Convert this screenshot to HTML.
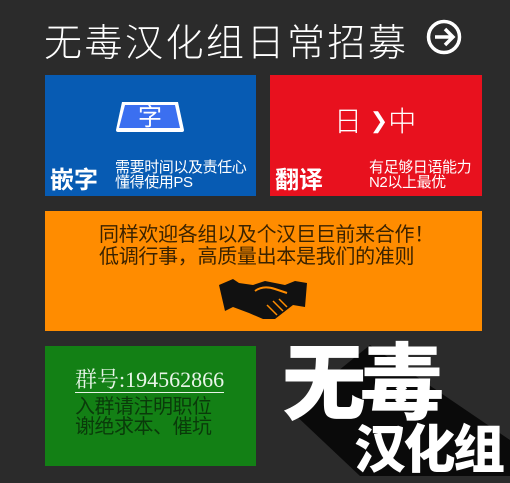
<!DOCTYPE html>
<html><head><meta charset="utf-8"><style>
*{margin:0;padding:0;box-sizing:border-box}
body{width:510px;height:476px;background:#2b2b2b;position:relative;overflow:hidden;font-family:"Liberation Sans","Noto Sans CJK SC",sans-serif}
.a{position:absolute;white-space:nowrap}
</style></head><body>
<div class="a" style="left:44px;top:12px;font-size:38px;color:#fff;letter-spacing:2.5px;font-weight:300">无毒汉化组日常招募</div>
<svg class="a" style="left:426px;top:19px" width="36" height="36" viewBox="0 0 36 36"><circle cx="18" cy="18" r="15.5" fill="none" stroke="#fff" stroke-width="3.5"/><path d="M9 18H26M19 10L27 18L19 26" fill="none" stroke="#fff" stroke-width="3.5"/></svg>

<div class="a" style="left:45px;top:75px;width:211px;height:121px;background:#075bb3"></div>
<svg class="a" style="left:114px;top:100px" width="72" height="34" viewBox="0 0 72 34"><path d="M8 2H64L70 30Q70 32 68 32H4Q2 32 2 30Z" fill="#fff"/><path d="M11 5H61L66 28H5Z" fill="#3b6ff0"/><text x="36" y="25" text-anchor="middle" font-size="24" fill="#fff" font-family="Noto Sans CJK SC,sans-serif">字</text></svg>
<div class="a" style="left:50px;top:160px;font-size:24px;font-weight:bold;color:#fff">嵌字</div>
<div class="a" style="left:115px;top:160px;font-size:15px;line-height:15px;color:#fff;letter-spacing:-0.4px">需要时间以及责任心<br>懂得使用PS</div>

<div class="a" style="left:270px;top:75px;width:212px;height:121px;background:#e8111e"></div>
<div class="a" style="left:334px;top:100px;font-size:28px;color:#fff;font-weight:300">日 <b style="font-size:22px;position:relative;top:-3px">❯</b>中</div>
<div class="a" style="left:275px;top:160px;font-size:24px;font-weight:bold;color:#fff">翻译</div>
<div class="a" style="left:369px;top:160px;font-size:15px;line-height:15px;color:#fff;letter-spacing:-0.4px">有足够日语能力<br>N2以上最优</div>

<div class="a" style="left:45px;top:211px;width:437px;height:120px;background:#ff8c00"></div>
<div class="a" style="left:99px;top:224px;font-size:20px;line-height:22px;color:#3a2200;letter-spacing:-0.3px">同样欢迎各组以及个汉巨巨前来合作！<br>低调行事，高质量出本是我们的准则</div>
<svg class="a" style="left:219px;top:279px" width="90" height="42" viewBox="0 0 90 42"><path d="M0 6L14 0L20 4L34 6L46 2L66 6L76 2L88 4L86 28L74 26L56 40L44 40L30 34L14 28L6 32Z" fill="#111"/><path d="M36 12Q44 6 56 10L68 14" fill="none" stroke="#ff8c00" stroke-width="2"/><path d="M48 26L58 36M54 22L64 32M60 20L68 28" stroke="#ff8c00" stroke-width="1.5"/></svg>

<div class="a" style="left:45px;top:346px;width:211px;height:120px;background:#138015"></div>
<div class="a" style="left:75px;top:368px;font-size:22px;color:#e8f5e8;font-family:'Liberation Serif','Noto Serif CJK SC',serif;border-bottom:1.5px solid #e8f5e8;line-height:24px">群号:194562866</div>
<div class="a" style="left:75px;top:397px;font-size:20px;line-height:20px;color:#0a3a0a;letter-spacing:-0.5px">入群请注明职位<br>谢绝求本、催坑</div>

<svg class="a" style="left:0;top:0" width="510" height="476"><polygon points="290,410 370,345 510,440 510,476 360,476" fill="#0a0a0a"/></svg>
<div class="a" style="left:282px;top:328px;font-size:84px;font-weight:900;color:#fff;letter-spacing:-6px;line-height:100px;font-family:'Noto Sans CJK SC',sans-serif">无毒</div>
<div class="a" style="left:354px;top:416px;font-size:52px;font-weight:900;color:#fff;letter-spacing:-2.5px;line-height:60px;font-family:'Noto Sans CJK SC',sans-serif">汉化组</div>
</body></html>
